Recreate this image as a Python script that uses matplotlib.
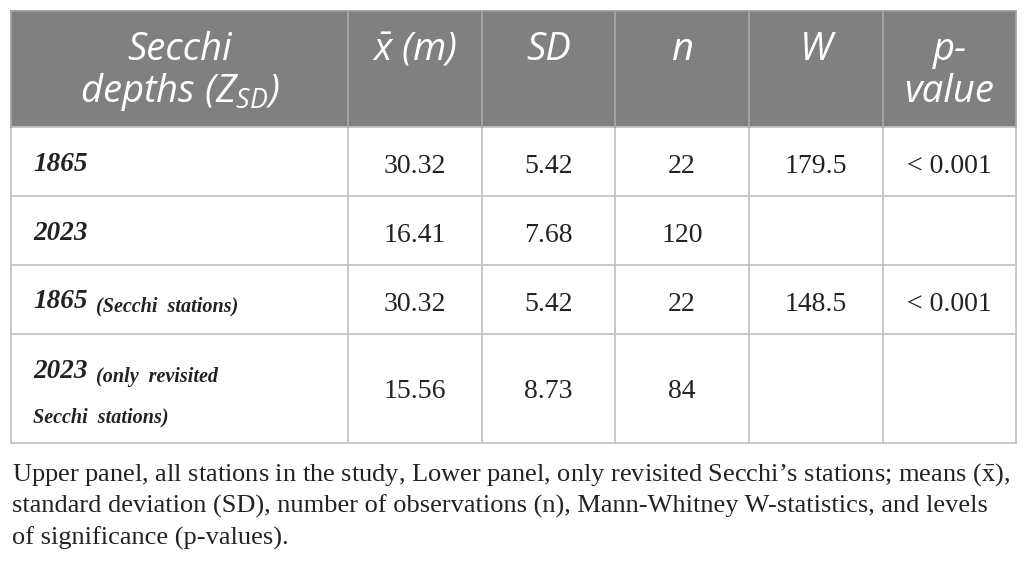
import matplotlib.pyplot as plt

# table contents
row_labels = ['1865', '2023', '1865', '2023']
row_notes = ['', '', '(Secchi  stations)', '(only  revisited']
row_notes2 = ['', '', '', 'Secchi  stations)']
means = ['30.32', '16.41', '30.32', '15.56']
sds = ['5.42', '7.68', '5.42', '8.73']
counts = ['22', '120', '22', '84']
w_stats = ['179.5', '', '148.5', '']
p_values = ['< 0.001', '', '< 0.001', '']
headers = [['Secchi', 'depths (Z$_{SD}$)'], [r'$\bar{x}$ (m)'], ['SD'], ['n'], ['W'], ['p-', 'value']]
caption = [
    'Upper panel, all stations in the study, Lower panel, only revisited Secchi\u2019s stations; means ($\\bar{\\mathrm{x}}$),',
    'standard deviation (SD), number of observations (n), Mann-Whitney W-statistics, and levels',
    'of significance (p-values).',
]

# layout in pixels
col_edges = [11, 348, 482, 615, 749, 883, 1016]
row_edges = [11, 127, 196, 265, 334, 443]
header_bg = '#808080'
grid_col = '#c4c4c4'
ink = '#222222'
serif = 'Liberation Serif'
sans = 'Open Sans'

plt.rcParams['mathtext.fontset'] = 'custom'
plt.rcParams['mathtext.it'] = 'Open Sans:italic'
plt.rcParams['mathtext.rm'] = 'Open Sans:italic'

fig = plt.figure(figsize=(10.26, 5.67), dpi=100)
ax = fig.add_axes([0, 0, 1, 1])
ax.set_xlim(0, 1026)
ax.set_ylim(567, 0)
ax.axis('off')

# header band
ax.fill_between([col_edges[0], col_edges[-1]], row_edges[0], row_edges[1], color=header_bg, lw=0)

# grid lines
for y in row_edges[1:]:
    ax.plot([col_edges[0], col_edges[-1]], [y, y], color=grid_col, lw=1.3)
ax.plot([col_edges[0], col_edges[-1]], [row_edges[0], row_edges[0]], color='#9a9a9a', lw=1.3)
for x in col_edges:
    ax.plot([x, x], [row_edges[1], row_edges[-1]], color=grid_col, lw=1.3)
    ax.plot([x, x], [row_edges[0], row_edges[1]], color='#a6a6a6', lw=1.3)

# header text
for i, lines in enumerate(headers):
    cx = (col_edges[i] + col_edges[i + 1]) / 2
    for j, line in enumerate(lines):
        ax.text(cx, 60 + 42 * j, line, ha='center', va='baseline', color='white',
                fontsize=27.5, family=sans, style='italic', math_fontfamily='custom')

# body rows
baselines = [173, 242, 311, 398]
label_base = [171, 240, 308, 378]
for r in range(len(row_labels)):
    t = ax.text(33, label_base[r], row_labels[r], ha='left', va='baseline',
                fontsize=19.5, family=serif, weight='bold', style='italic', color=ink)
    if row_notes[r]:
        ax.annotate(row_notes[r], xy=(1, 0), xycoords=t, xytext=(6, -2),
                    textcoords='offset points', ha='left', va='bottom',
                    fontsize=14.5, family=serif, weight='bold', style='italic', color=ink)
    if row_notes2[r]:
        ax.text(33, label_base[r] + 44, row_notes2[r], ha='left', va='baseline',
                fontsize=14.5, family=serif, weight='bold', style='italic', color=ink)
    for c, col in enumerate([means, sds, counts, w_stats, p_values]):
        cx = (col_edges[c + 1] + col_edges[c + 2]) / 2
        ax.text(cx, baselines[r], col[r], ha='center', va='baseline',
                fontsize=20, family=serif, color=ink)

# caption
for k, line in enumerate(caption):
    ax.text(12, 481 + 32 * k, line, ha='left', va='baseline', fontsize=19,
            family=serif, color=ink, math_fontfamily='stix')

fig.savefig('out.png', dpi=100)
